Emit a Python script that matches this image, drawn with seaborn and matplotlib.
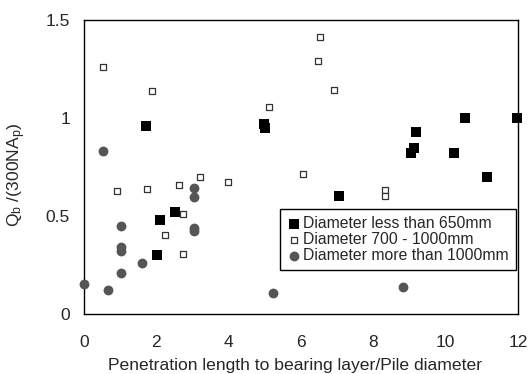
"""Base resistance ratio vs penetration length, grouped by pile diameter."""

import matplotlib.pyplot as plt
import seaborn as sns

# diameter less than 650mm
small_x = [1.72, 2.03, 2.10, 2.52, 4.98, 5.0, 7.06, 9.03, 9.12, 9.17, 10.23, 10.53, 11.15, 11.96]
small_y = [0.96, 0.30, 0.48, 0.52, 0.97, 0.95, 0.60, 0.82, 0.845, 0.93, 0.82, 1.00, 0.70, 1.00]

# diameter 700 - 1000mm
mid_x = [0.52, 0.92, 1.74, 1.87, 2.24, 2.64, 2.73, 2.75, 3.21, 3.98, 5.12, 6.07, 6.48, 6.54, 6.91, 8.31, 8.31]
mid_y = [1.26, 0.625, 0.637, 1.135, 0.40, 0.655, 0.51, 0.306, 0.70, 0.67, 1.056, 0.715, 1.29, 1.41, 1.14, 0.634, 0.603]

# diameter more than 1000mm
large_x = [0.0, 0.52, 0.66, 1.02, 1.02, 1.02, 1.02, 1.60, 3.03, 3.03, 3.03, 3.03, 5.22, 8.82]
large_y = [0.15, 0.83, 0.12, 0.45, 0.34, 0.32, 0.21, 0.26, 0.643, 0.597, 0.44, 0.42, 0.106, 0.137]

labels = ["Diameter less than 650mm", "Diameter 700 - 1000mm", "Diameter more than 1000mm"]
x_ticks = [0, 2, 4, 6, 8, 10, 12]
y_ticks = [0, 0.5, 1, 1.5]
y_ticklabels = ["0", "0.5", "1", "1.5"]

sns.set_style("white")
plt.rcParams["font.family"] = ["Liberation Sans", "DejaVu Sans"]
plt.rcParams["mathtext.default"] = "regular"

fig = plt.figure(figsize=(5.28, 3.74), dpi=100)
ax = fig.add_axes([0.159, 0.161, 0.822, 0.786])

sns.scatterplot(x=small_x, y=small_y, ax=ax, marker="s", s=44, color="black",
                edgecolor="black", linewidth=0, label=labels[0], clip_on=False, zorder=3)
sns.scatterplot(x=mid_x, y=mid_y, ax=ax, marker="s", s=20, facecolor="white",
                edgecolor="#333333", linewidth=0.9, label=labels[1], clip_on=False, zorder=3)
sns.scatterplot(x=large_x, y=large_y, ax=ax, marker="o", s=50, color="#555555",
                edgecolor="#555555", linewidth=0, label=labels[2], clip_on=False, zorder=3)

ax.set_xlim(0, 12)
ax.set_ylim(0, 1.5)
ax.set_xticks(x_ticks)
ax.set_yticks(y_ticks)
ax.set_xticklabels([str(t) for t in x_ticks])
ax.set_yticklabels(y_ticklabels)
ax.tick_params(direction="in", length=5, width=1, labelsize=12.5, color="black")
ax.tick_params(axis="x", pad=15)
ax.tick_params(axis="y", pad=10)

for sp in ax.spines.values():
    sp.set_color("black")
    sp.set_linewidth(1)
    sp.set_visible(True)

ax.set_xlabel("Penetration length to bearing layer/Pile diameter", fontsize=12.6)
ax.xaxis.set_label_coords(0.486, -0.152)
ax.set_ylabel("Q$_b$ /(300NA$_p$)", fontsize=12.6)
ax.yaxis.set_label_coords(-0.128, 0.472)

leg = ax.legend(loc="lower right", bbox_to_anchor=(0.995, 0.149), fontsize=11.3,
                frameon=True, fancybox=False, framealpha=1, edgecolor="black",
                handlelength=0.8, handletextpad=0.2, labelspacing=0.05,
                borderpad=0.45, borderaxespad=0)
leg.get_frame().set_linewidth(1)

fig.savefig("out.png", dpi=100)
